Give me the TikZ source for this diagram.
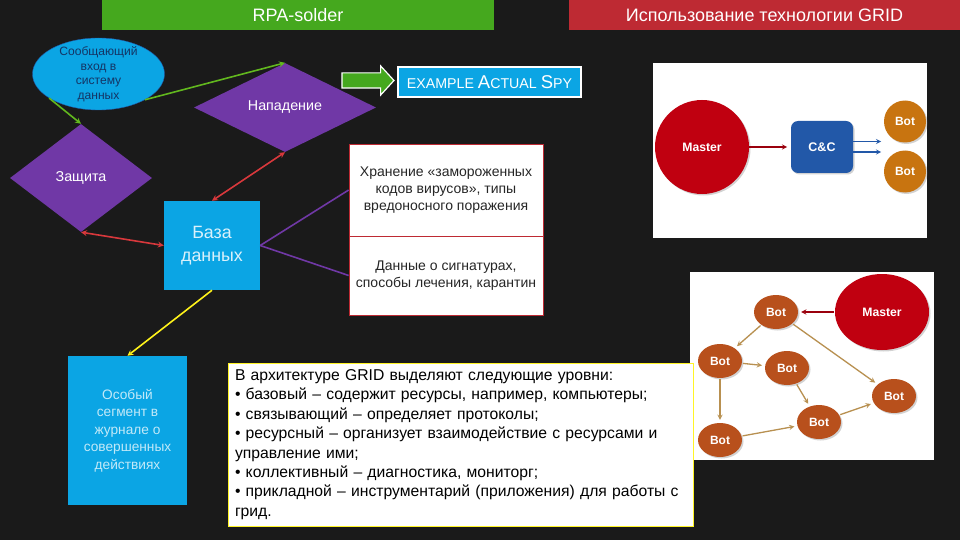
\documentclass[tikz,border=0pt]{standalone}
\usepackage{fontspec}
\setmainfont{Liberation Sans}
\usetikzlibrary{shapes.geometric, shapes.arrows, arrows, shadows}
\definecolor{slide}{HTML}{1A1A1A}
\definecolor{headgreen}{HTML}{45A81E}
\definecolor{headred}{HTML}{BE2A33}
\definecolor{skyblue}{HTML}{0BA5E4}
\definecolor{violet}{HTML}{7038A6}
\definecolor{limeline}{HTML}{62B81E}
\definecolor{redline}{HTML}{D8383C}
\definecolor{masterred}{HTML}{C00010}
\definecolor{ccblue}{HTML}{2258A8}
\definecolor{botorange}{HTML}{C87410}
\definecolor{botrust}{HTML}{B8501C}
\definecolor{tanline}{HTML}{B89050}
\tikzstyle{header} = [minimum height=30pt,inner sep=0pt,text=white,font=\fontsize{18}{22}\selectfont]
\tikzstyle{choice} = [diamond,aspect=2,fill=violet,inner sep=0pt,text=white,font=\fontsize{14.3}{17}\selectfont]
\tikzstyle{store} = [fill=skyblue,inner sep=0pt,align=center]
\tikzstyle{infobox} = [fill=white,draw=headred,line width=0.7pt,minimum width=194pt,inner sep=0pt,align=center,text=black!85,font=\fontsize{14}{16.8}\selectfont]
\tikzstyle{picframe} = [fill=white,inner sep=0pt]
\tikzstyle{softshadow} = [drop shadow={opacity=0.35,shadow xshift=1.5pt,shadow yshift=-1.5pt}]
\tikzstyle{master} = [fill=masterred,softshadow,inner sep=0pt,text=white,font=\fontsize{12.2}{14}\bfseries\selectfont]
\tikzstyle{bot} = [ellipse,fill=botrust,softshadow,minimum width=44pt,minimum height=34pt,inner sep=0pt,text=white,font=\fontsize{12}{14}\bfseries\selectfont]
\tikzstyle{botcircle} = [circle,fill=botorange,softshadow,minimum size=42pt,inner sep=0pt,text=white,font=\fontsize{12}{14}\bfseries\selectfont]
\tikzstyle{arrow} = [line width=1.6pt,->,>=stealth]
\tikzstyle{both} = [line width=1.6pt,<->,>=stealth,redline]
\tikzstyle{link} = [line width=1.3pt,->,>=stealth,tanline,shorten >=3pt,shorten <=1pt]

\begin{document}
\begin{tikzpicture}[x=1pt,y=-1pt]
    \useasboundingbox (0,0) rectangle (960,540);
    \fill[slide] (0,0) rectangle (960,540);

    \node[header,fill=headgreen,minimum width=392pt] (rpa) at (298,15) {RPA-solder};
    \node[header,fill=headred,minimum width=391pt] (grid) at (764.5,15) {Использование технологии GRID};

    \node[ellipse,fill=skyblue,draw=ccblue,minimum width=132pt,minimum height=72pt,inner sep=0pt,inner ysep=-6pt,align=center,text=ccblue!60!black,font=\fontsize{12.1}{14.5}\selectfont] (entry) at (98.5,74) {Сообщающий\\вход в\\систему\\данных};
    \node[choice,minimum width=182pt,minimum height=89pt] (attack) at (285,107.5) {Нападение};
    \node[choice,minimum width=142pt,minimum height=108pt] (defence) at (81,178) {Защита};
    \node[store,minimum width=96pt,minimum height=89pt,text=white!85!skyblue,font=\fontsize{17.8}{23}\selectfont] (base) at (212,245.5) {База\\данных};
    \node[store,minimum width=119pt,minimum height=149pt,text=white!75!skyblue,font=\fontsize{13.7}{17.4}\selectfont] (journal) at (127.5,430.5) {Особый\\сегмент в\\журнале о\\совершенных\\действиях};

    \node[infobox,minimum height=92pt] (frozen) at (446,190) {Хранение «замороженных\\кодов вирусов», типы\\вредоносного поражения};
    \node[infobox,minimum height=79pt] (signs) at (446,275.5) {Данные о сигнатурах,\\способы лечения, карантин};

    \node[single arrow,single arrow head extend=7pt,single arrow tip angle=95,fill=headgreen,draw=white,line width=1.2pt,minimum height=52pt,minimum width=28pt,text height=7pt,text depth=7pt,inner sep=0pt] (pointer) at (364.5,80.5) {};
    \node[fill=skyblue,draw=white,line width=1.5pt,minimum width=183pt,minimum height=30pt,inner sep=0pt,text=white] (spy) at (489.5,82) {\fontsize{14.2}{16}\selectfont EXAMPLE \fontsize{18.5}{16}\selectfont A\fontsize{14.2}{16}\selectfont CTUAL \fontsize{18.5}{16}\selectfont S\fontsize{14.2}{16}\selectfont PY};

    \draw[arrow,limeline] (entry.-29) -- (attack.north);
    \draw[arrow,limeline] (entry.206) -- (defence.north);
    \draw[both] (attack.south) -- (base.north);
    \draw[both] (defence.south) -- (base.west);
    \draw[line width=1.6pt,violet] (base.east) -- (frozen.west);
    \draw[line width=1.6pt,violet] (base.east) -- (signs.west);
    \draw[arrow,yellow!90!white] (base.south) -- (journal.north);

    \node[picframe,minimum width=274pt,minimum height=175pt] (pica) at (790,150.5) {};
    \node[master,circle,minimum size=94pt] (ma) at (702,147) {Master};
    \node[fill=ccblue,softshadow,rounded corners=7pt,minimum width=62pt,minimum height=52pt,inner sep=0pt,text=white,font=\fontsize{12.5}{14}\bfseries\selectfont] (cc) at (822,147) {C\&C};
    \node[botcircle] (boa) at (905,121.5) {Bot};
    \node[botcircle] (bob) at (905,171.5) {Bot};
    \coordinate (ccend) at (787,147);
    \coordinate (cca) at (853,141.5);
    \coordinate (ccb) at (853,152);
    \coordinate (enda) at (881,141.5);
    \coordinate (endb) at (881,152);
    \draw[arrow,masterred!80!black,line width=1.2pt] (ma) -- (ccend);
    \draw[arrow,ccblue,line width=1.2pt] (cca) -- (enda);
    \draw[arrow,ccblue,line width=1.2pt] (ccb) -- (endb);

    \node[picframe,minimum width=244pt,minimum height=188pt] (picb) at (812,366) {};
    \node[master,ellipse,minimum width=94pt,minimum height=76pt] (mb) at (882,312) {Master};
    \node[bot] (b1) at (776,312) {Bot};
    \node[bot] (b2) at (720,361) {Bot};
    \node[bot] (b3) at (787,368) {Bot};
    \node[bot] (b4) at (720,440) {Bot};
    \node[bot] (b5) at (819,422) {Bot};
    \node[bot] (b6) at (894,396) {Bot};
    \draw[link,masterred!80!black] (mb) -- (b1);
    \draw[link] (b1) -- (b2);
    \draw[link] (b1) -- (b6);
    \draw[link] (b2) -- (b3);
    \draw[link] (b2) -- (b4);
    \draw[link] (b3) -- (b5);
    \draw[link] (b4) -- (b5);
    \draw[link] (b5) -- (b6);

    \node[fill=white,draw=yellow!85!white,line width=0.8pt,minimum width=465pt,minimum height=163pt,inner sep=0pt,text width=451pt,align=left,text=black,font=\fontsize{15.7}{19.4}\selectfont] (levels) at (460.5,444.5) {В архитектуре GRID выделяют следующие уровни:\\
    • базовый – содержит ресурсы, например, компьютеры;\\
    • связывающий – определяет протоколы;\\
    • ресурсный – организует взаимодействие с ресурсами и\\
    управление ими;\\
    • коллективный – диагностика, мониторг;\\
    • прикладной – инструментарий (приложения) для работы с\\
    грид.};
\end{tikzpicture}
\end{document}
